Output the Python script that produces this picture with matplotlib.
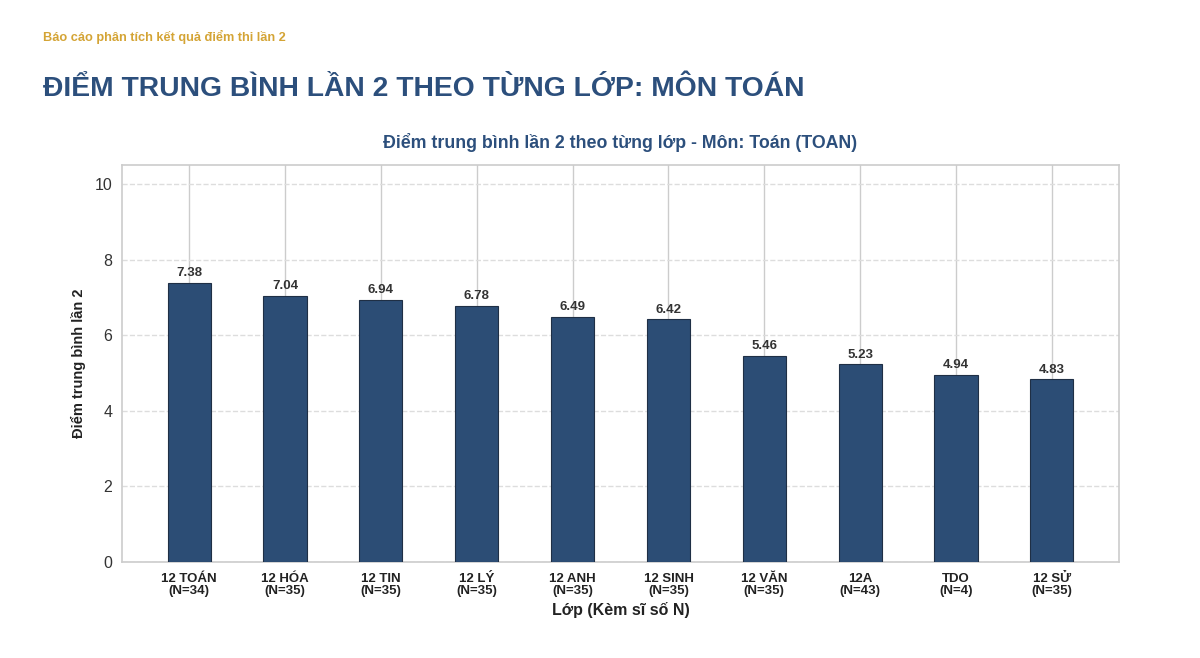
import numpy as np
import matplotlib
matplotlib.use('Agg')
from matplotlib import pyplot as plt

plt.rcParams['font.family'] = ['Liberation Sans', 'DejaVu Sans']

classes = ['12 TOÁN', '12 HÓA', '12 TIN', '12 LÝ', '12 ANH', '12 SINH', '12 VĂN', '12A', 'TDO', '12 SỬ']
counts = [34, 35, 35, 35, 35, 35, 35, 43, 4, 35]
scores = [7.38, 7.04, 6.94, 6.78, 6.49, 6.42, 5.46, 5.23, 4.94, 4.83]

navy = '#2c4f7c'
fig = plt.figure(figsize=(12, 6.58), dpi=100)
ax = fig.add_axes([0.1017, 0.146, 0.8308, 0.603])

x = np.arange(len(classes))
bars = ax.bar(x, scores, width=0.45, color='#2c4d75', edgecolor='#1f2f45', linewidth=0.8, zorder=3)
for b, v in zip(bars, scores):
    ax.text(b.get_x() + b.get_width() / 2, v + 0.1, f'{v:.2f}', ha='center', va='bottom',
            fontsize=9.5, fontweight='bold', color='#333333', zorder=4)

labels = [f'{c}\n(N={n})' for c, n in zip(classes, counts)]
ax.set_xticks(x)
ax.set_xticklabels(labels, fontsize=9.5, fontweight='bold', color='#222222', linespacing=0.95)
ax.set_xlim(-0.7, 9.7)
ax.set_ylim(0, 10.5)
ax.set_yticks([0, 2, 4, 6, 8, 10])
ax.tick_params(axis='y', labelsize=11.5, colors='#333333', length=0, pad=7)
ax.tick_params(axis='x', length=0, pad=8)

ax.xaxis.grid(True, color='#cccccc', linewidth=1.0, linestyle='-', zorder=0)
ax.yaxis.grid(True, color='#dddddd', linewidth=1.0, linestyle='--', zorder=0)
ax.set_axisbelow(True)
for s in ax.spines.values():
    s.set_color('#cccccc')
    s.set_linewidth(1.2)

ax.set_xlabel('Lớp (Kèm sĩ số N)', fontsize=11.5, fontweight='bold', color='#222222', labelpad=4)
ax.set_ylabel('Điểm trung bình lần 2', fontsize=10.5, fontweight='bold', color='#222222', labelpad=6)
ax.set_title('Điểm trung bình lần 2 theo từng lớp - Môn: Toán (TOAN)', fontsize=12.8, fontweight='bold',
             color=navy, pad=12)

fig.text(0.036, 0.944, 'Báo cáo phân tích kết quả điểm thi lần 2', fontsize=9.2, fontweight='bold',
         color='#d4a435', va='center')
fig.text(0.036, 0.864, 'ĐIỂM TRUNG BÌNH LẦN 2 THEO TỪNG LỚP: MÔN TOÁN', fontsize=20.3, fontweight='bold',
         color=navy, va='center')

fig.savefig('out.png', dpi=100)
